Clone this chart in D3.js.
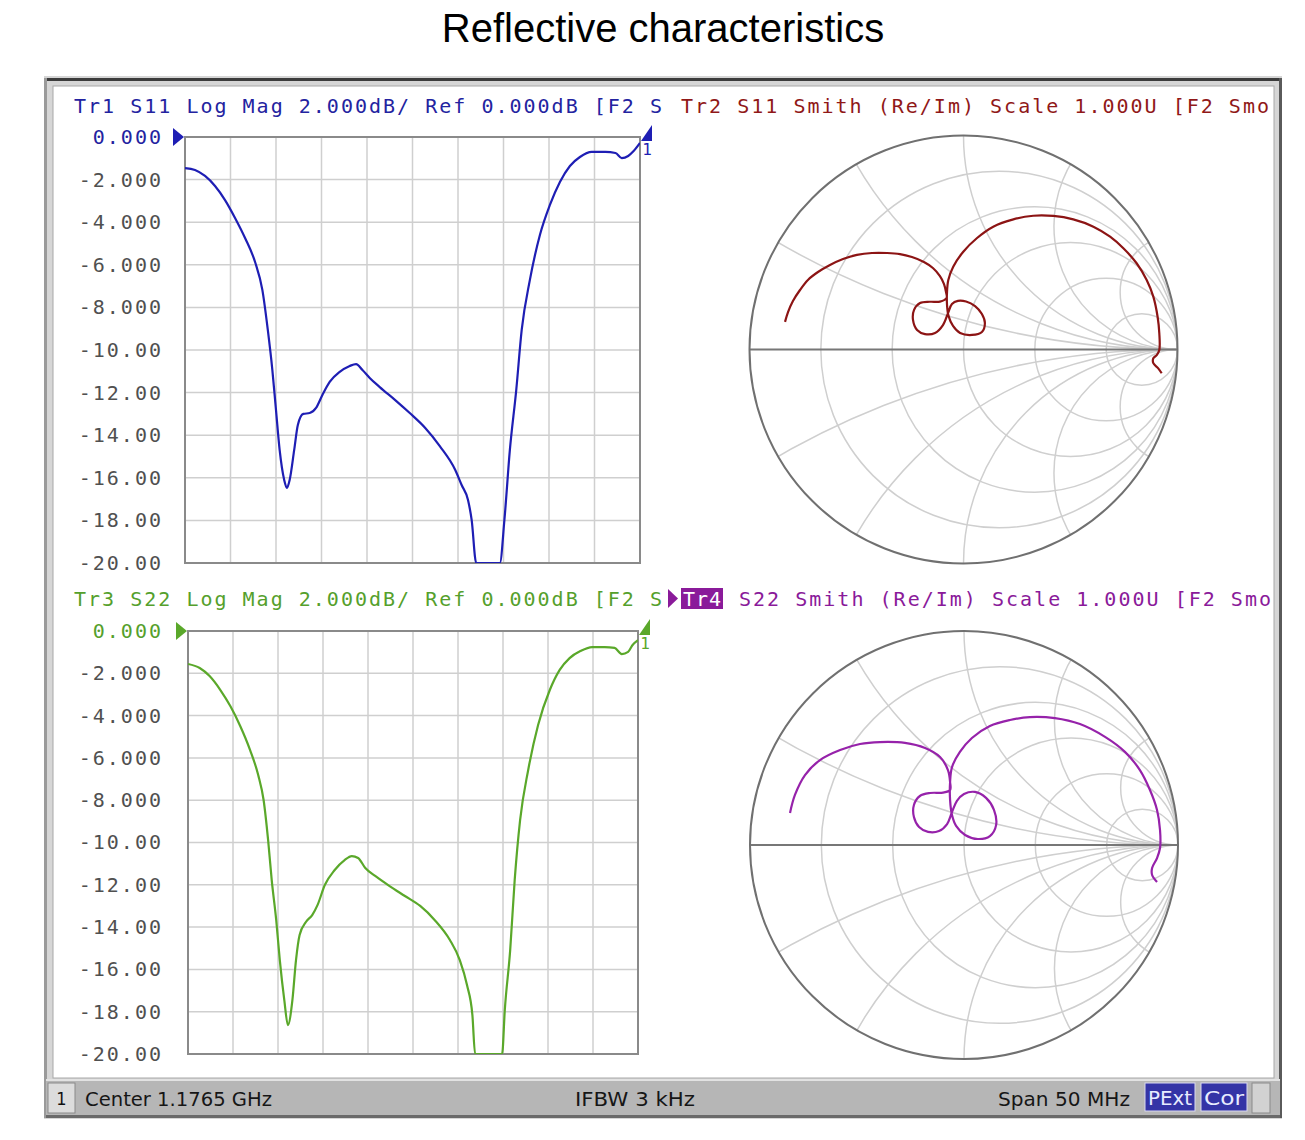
<!DOCTYPE html>
<html><head><meta charset="utf-8">
<script src="https://cdn.jsdelivr.net/npm/d3@7"></script>
<style>
body{margin:0;background:#fff;}
svg{display:block;}
</style></head><body>
<svg id="c" width="1305" height="1140"></svg>
<script>
// ---------------- DATA ----------------
const chartTitle = "Reflective characteristics";
const freqStartMHz = 1151.5, freqStopMHz = 1201.5;   // center 1.1765 GHz, span 50 MHz
const yTickValues = [0,-2,-4,-6,-8,-10,-12,-14,-16,-18,-20];
const yTickLabels = ["0.000","-2.000","-4.000","-6.000","-8.000","-10.00","-12.00","-14.00","-16.00","-18.00","-20.00"];

// Tr1 S11 log mag (dB); values below -20 dB are clipped at the grid bottom
const s11Freq = [1151.5,1152.6,1153.7,1154.8,1155.9,1157.0,1158.1,1159.2,1160.0,1160.6,1161.1,1161.5,1161.9,1162.4,1162.7,1163.0,1163.5,1163.9,1164.5,1165.2,1165.9,1166.6,1167.4,1168.5,1169.6,1170.3,1171.0,1171.8,1172.9,1174.6,1176.2,1177.9,1179.5,1181.2,1181.9,1182.6,1183.0,1183.5,1184.8,1186.1,1186.6,1187.2,1187.9,1188.5,1189.4,1190.5,1191.6,1192.7,1193.8,1194.9,1196.2,1197.7,1198.8,1199.5,1200.2,1200.8,1201.5];
const s11dB = [-1.46,-1.55,-1.83,-2.30,-2.96,-3.80,-4.74,-5.87,-7.18,-9.06,-10.94,-12.82,-14.69,-16.10,-16.48,-16.10,-14.69,-13.52,-13.00,-12.96,-12.72,-12.11,-11.50,-11.03,-10.75,-10.66,-10.94,-11.31,-11.74,-12.35,-12.96,-13.66,-14.51,-15.63,-16.34,-17.04,-17.98,-21.0,-23.0,-21.5,-17.98,-14.69,-11.88,-9.06,-6.71,-4.60,-3.19,-2.11,-1.36,-0.94,-0.70,-0.70,-0.75,-0.99,-0.89,-0.66,-0.28];

// Tr3 S22 log mag (dB)
const s22Freq = [1151.5,1152.8,1153.9,1155.1,1156.2,1157.3,1158.4,1159.3,1159.9,1160.4,1160.8,1161.3,1161.7,1162.2,1162.6,1163.1,1163.5,1163.9,1164.6,1165.3,1165.9,1166.7,1167.8,1168.9,1169.7,1170.4,1171.2,1172.3,1173.9,1175.6,1177.3,1178.9,1180.6,1181.7,1182.5,1183.1,1183.4,1185.1,1186.4,1186.7,1187.3,1187.8,1188.4,1189.3,1190.4,1191.7,1192.8,1193.9,1195.1,1196.4,1197.8,1198.9,1199.7,1200.4,1200.9,1201.5];
const s22dB = [-1.56,-1.75,-2.13,-2.79,-3.55,-4.49,-5.63,-6.81,-7.99,-9.88,-11.77,-13.66,-15.56,-17.45,-18.63,-17.45,-15.56,-14.37,-13.76,-13.43,-12.95,-12.01,-11.30,-10.83,-10.64,-10.73,-11.21,-11.58,-12.06,-12.53,-13.00,-13.66,-14.61,-15.56,-16.74,-18.16,-20.8,-22.0,-20.5,-17.92,-15.08,-11.77,-8.94,-6.57,-4.44,-2.79,-1.84,-1.28,-0.95,-0.76,-0.76,-0.80,-1.09,-0.99,-0.66,-0.43];

// Tr2 S11 Smith (reflection coefficient, Re / Im)
const s11Re = [-0.834,-0.820,-0.797,-0.764,-0.727,-0.680,-0.624,-0.563,-0.498,-0.428,-0.357,-0.297,-0.241,-0.185,-0.143,-0.110,-0.091,-0.082,-0.079,
 -0.110,-0.157,-0.203,-0.231,-0.236,-0.217,-0.180,-0.133,-0.096,-0.072,
 -0.054,-0.026,0.012,0.054,0.086,0.100,0.086,0.040,-0.016,-0.049,-0.070,
 -0.077,-0.077,-0.071,-0.048,-0.001,0.062,0.139,0.233,0.326,0.420,0.513,0.607,0.685,0.747,0.809,0.856,0.887,0.907,0.915,0.915,0.903,0.887,0.887,0.910,0.926];
const s11Im = [0.129,0.175,0.227,0.278,0.325,0.362,0.395,0.423,0.442,0.451,0.451,0.446,0.432,0.409,0.381,0.343,0.306,0.269,0.241,
 0.224,0.223,0.217,0.185,0.138,0.091,0.072,0.077,0.114,0.171,
 0.213,0.227,0.224,0.203,0.166,0.124,0.082,0.068,0.077,0.110,0.157,
 0.208,0.269,0.325,0.387,0.457,0.520,0.574,0.608,0.625,0.624,0.608,0.574,0.527,0.473,0.403,0.325,0.247,0.153,0.076,-0.002,-0.026,-0.041,-0.064,-0.088,-0.111];

// Tr4 S22 Smith
const s22Re = [-0.813,-0.790,-0.743,-0.673,-0.579,-0.486,-0.393,-0.276,-0.182,-0.112,-0.075,-0.065,-0.065,
 -0.098,-0.159,-0.206,-0.234,-0.234,-0.210,-0.168,-0.117,-0.079,-0.056,
 -0.033,0.000,0.051,0.103,0.140,0.150,0.121,0.065,0.005,-0.037,-0.056,
 -0.065,-0.065,-0.056,-0.019,0.037,0.121,0.215,0.308,0.425,0.542,0.659,0.752,0.822,0.869,0.902,0.916,0.916,0.902,0.879,0.879,0.902];
const s22Im = [0.150,0.234,0.327,0.397,0.444,0.472,0.481,0.477,0.453,0.411,0.350,0.294,0.257,
 0.245,0.243,0.229,0.187,0.131,0.084,0.061,0.065,0.098,0.154,
 0.206,0.238,0.248,0.220,0.164,0.093,0.042,0.028,0.047,0.089,0.140,
 0.210,0.294,0.364,0.435,0.500,0.556,0.584,0.598,0.593,0.565,0.505,0.435,0.350,0.257,0.164,0.070,-0.014,-0.061,-0.107,-0.140,-0.173];

// Smith grid: constant-resistance circles and constant-reactance arcs
const smithR = [0.2, 0.5, 1, 2, 5];
const smithX = [0.268, 0.577, 1, 1.732, 3.732];

const headerTr1 = "Tr1 S11 Log Mag 2.000dB/ Ref 0.000dB [F2 S";
const headerTr2 = "Tr2 S11 Smith (Re/Im) Scale 1.000U [F2 Smo";
const headerTr3 = "Tr3 S22 Log Mag 2.000dB/ Ref 0.000dB [F2 S";
const headerTr4Tag = "Tr4";
const headerTr4 = "S22 Smith (Re/Im) Scale 1.000U [F2 Smo";
const statusItems = ["Center 1.1765 GHz", "IFBW 3 kHz", "Span 50 MHz"];
const statusFlags = ["PExt", "Cor"];
const channelLabel = "1";
const markerLabel = "1";

// ---------------- DRAWING ----------------
const svg = d3.select("#c");
const MONO = "'DejaVu Sans Mono', monospace";
const COND = "'DejaVu Sans Condensed','DejaVu Sans',sans-serif";
const C = {
  tr1: "#1e1eb4", tr1t: "#2323a0",
  tr2: "#8c1414", tr2t: "#901818",
  tr3: "#5aa82a", tr3t: "#55a02c",
  tr4: "#9622aa", tr4t: "#8a1a9a",
  grid: "#cfcfcf", frame: "#8a8a8a", lab: "#505050"
};

// title
svg.append("text").attr("x", 663).attr("y", 42).attr("text-anchor", "middle")
  .attr("font-family", "'Liberation Sans', Arial, sans-serif").attr("font-size", 40)
  .attr("fill", "#000").text(chartTitle);

// instrument window frame
svg.append("rect").attr("x", 44).attr("y", 76).attr("width", 1238).attr("height", 1043).attr("fill", "#d6d6d6");
svg.append("rect").attr("x", 44).attr("y", 78).attr("width", 1238).attr("height", 3).attr("fill", "#3c3c3c");
svg.append("rect").attr("x", 44).attr("y", 78).attr("width", 3).attr("height", 1040).attr("fill", "#9a9a9a");
svg.append("rect").attr("x", 1279).attr("y", 78).attr("width", 3).attr("height", 1040).attr("fill", "#5a5a5a");
svg.append("rect").attr("x", 53).attr("y", 86).attr("width", 1221).attr("height", 992)
  .attr("fill", "#fff").attr("stroke", "#a8a8a8").attr("stroke-width", 1);

// ---- log-mag panels ----
function logPanel(o) {
  const x = d3.scaleLinear().domain([freqStartMHz, freqStopMHz]).range([o.x0, o.x1]);
  const y = d3.scaleLinear().domain([0, -20]).range([o.y0, o.y1]).clamp(true);
  const g = svg.append("g");
  const vt = d3.range(1, 10).map(i => freqStartMHz + i * (freqStopMHz - freqStartMHz) / 10);
  g.selectAll("line.v").data(vt).join("line")
    .attr("x1", d => x(d)).attr("x2", d => x(d)).attr("y1", o.y0).attr("y2", o.y1)
    .attr("stroke", C.grid).attr("stroke-width", 1.5);
  g.selectAll("line.h").data(yTickValues.slice(1, -1)).join("line")
    .attr("x1", o.x0).attr("x2", o.x1).attr("y1", d => y(d)).attr("y2", d => y(d))
    .attr("stroke", C.grid).attr("stroke-width", 1.5);
  const ax = d3.axisLeft(y).tickValues(yTickValues).tickSize(0).tickPadding(o.x0 - 163)
    .tickFormat((d, i) => yTickLabels[i]);
  const ag = svg.append("g").attr("transform", `translate(${o.x0},0)`).call(ax);
  ag.select(".domain").remove();
  ag.selectAll("text").attr("font-family", MONO).attr("font-size", 20)
    .attr("letter-spacing", 2).attr("fill", (d, i) => i === 0 ? o.tcol : C.lab);
  g.append("rect").attr("x", o.x0).attr("y", o.y0).attr("width", o.x1 - o.x0).attr("height", o.y1 - o.y0)
    .attr("fill", "none").attr("stroke", C.frame).attr("stroke-width", 2);
  const cid = "clip" + o.id;
  svg.append("clipPath").attr("id", cid).append("rect")
    .attr("x", o.x0).attr("y", o.y0 - 2).attr("width", o.x1 - o.x0).attr("height", o.y1 - o.y0 + 2);
  const pts = o.f.map((f, i) => [f, o.v[i]]);
  svg.append("path").datum(pts).attr("clip-path", `url(#${cid})`)
    .attr("d", d3.line().x(d => x(d[0])).y(d => y(d[1])).curve(d3.curveMonotoneX))
    .attr("fill", "none").attr("stroke", o.col).attr("stroke-width", 2.2).attr("stroke-linejoin", "round");
  // reference level marker (left) and marker (right)
  const ry = y(0);
  svg.append("path").attr("d", `M${o.x0 - 12},${ry - 9}L${o.x0 - 1},${ry}L${o.x0 - 12},${ry + 9}Z`).attr("fill", o.col);
  const mx = x(freqStopMHz);
  svg.append("path").attr("d", `M${mx + 1},${ry + 4}L${mx + 12},${ry - 12}L${mx + 12},${ry + 4}Z`).attr("fill", o.col);
  svg.append("text").attr("x", mx + 7).attr("y", ry + 18).attr("text-anchor", "middle")
    .attr("font-family", MONO).attr("font-size", 16).attr("fill", o.col).text(markerLabel);
}
logPanel({id: 1, x0: 185, x1: 640, y0: 137, y1: 563, f: s11Freq, v: s11dB, col: C.tr1, tcol: C.tr1t});
logPanel({id: 3, x0: 188, x1: 638, y0: 631, y1: 1054, f: s22Freq, v: s22dB, col: C.tr3, tcol: C.tr3t});

// ---- Smith panels ----
function smithPanel(o) {
  const R = 214;
  const sx = d3.scaleLinear().domain([-1, 1]).range([o.cx - R, o.cx + R]);
  const sy = d3.scaleLinear().domain([-1, 1]).range([o.cy + R, o.cy - R]);
  const k = sx(1) - sx(0);
  const cid = "sclip" + o.id;
  svg.append("clipPath").attr("id", cid).append("circle").attr("cx", sx(0)).attr("cy", sy(0)).attr("r", k);
  const g = svg.append("g").attr("clip-path", `url(#${cid})`);
  g.selectAll("circle.r").data(smithR).join("circle")
    .attr("cx", r => sx(r / (1 + r))).attr("cy", sy(0)).attr("r", r => sx(1 / (1 + r)) - sx(0))
    .attr("fill", "none").attr("stroke", C.grid).attr("stroke-width", 1.5);
  const xs = smithX.flatMap(v => [v, -v]);
  g.selectAll("circle.x").data(xs).join("circle")
    .attr("cx", sx(1)).attr("cy", v => sy(1 / v)).attr("r", v => Math.abs(sx(1 / v) - sx(0)))
    .attr("fill", "none").attr("stroke", C.grid).attr("stroke-width", 1.5);
  svg.append("line").attr("x1", sx(-1)).attr("x2", sx(1)).attr("y1", sy(0)).attr("y2", sy(0))
    .attr("stroke", "#777").attr("stroke-width", 2);
  svg.append("circle").attr("cx", sx(0)).attr("cy", sy(0)).attr("r", k)
    .attr("fill", "none").attr("stroke", "#707070").attr("stroke-width", 2);
  const pts = o.re.map((r, i) => [r, o.im[i]]);
  svg.append("path").datum(pts)
    .attr("d", d3.line().x(d => sx(d[0])).y(d => sy(d[1])).curve(d3.curveCatmullRom.alpha(0.5)))
    .attr("fill", "none").attr("stroke", o.col).attr("stroke-width", 2.2).attr("stroke-linejoin", "round");
}
smithPanel({id: 2, cx: 963.5, cy: 349.5, re: s11Re, im: s11Im, col: C.tr2});
smithPanel({id: 4, cx: 964, cy: 845, re: s22Re, im: s22Im, col: C.tr4});

// ---- trace headers ----
function header(x, y, txt, col) {
  svg.append("text").attr("x", x).attr("y", y).attr("font-family", MONO).attr("font-size", 20)
    .attr("textLength", txt.length * 14).attr("lengthAdjust", "spacing")
    .attr("fill", col).text(txt);
}
header(74, 113, headerTr1, C.tr1t);
header(681, 113, headerTr2, C.tr2t);
header(74, 606, headerTr3, C.tr3t);
svg.append("path").attr("d", "M668,589L678,598.5L668,608Z").attr("fill", C.tr4t);
svg.append("rect").attr("x", 681).attr("y", 588).attr("width", 42).attr("height", 21).attr("fill", C.tr4t);
svg.append("text").attr("x", 683).attr("y", 606).attr("font-family", MONO).attr("font-size", 20)
  .attr("textLength", 38).attr("lengthAdjust", "spacing").attr("fill", "#fff").text(headerTr4Tag);
header(739, 606, headerTr4, C.tr4t);

// ---- status bar ----
svg.append("rect").attr("x", 46).attr("y", 1079).attr("width", 1234).attr("height", 38).attr("fill", "#b6b6b6");
svg.append("rect").attr("x", 46).attr("y", 1079).attr("width", 1234).attr("height", 2).attr("fill", "#e2e2e2");
svg.append("rect").attr("x", 46).attr("y", 1115).attr("width", 1234).attr("height", 3).attr("fill", "#6a6a6a");
svg.append("rect").attr("x", 48).attr("y", 1083).attr("width", 27).attr("height", 30)
  .attr("fill", "#dcdcdc").attr("stroke", "#8a8a8a");
svg.append("text").attr("x", 61.5).attr("y", 1105).attr("text-anchor", "middle")
  .attr("font-family", COND).attr("font-size", 18).attr("fill", "#111").text(channelLabel);
const statusX = [85, 575, 998], statusW = [187, 120, 132];
statusItems.forEach((t, i) => {
  svg.append("text").attr("x", statusX[i]).attr("y", 1106).attr("font-family", COND).attr("font-size", 20)
    .attr("textLength", statusW[i]).attr("lengthAdjust", "spacingAndGlyphs").attr("fill", "#161616").text(t);
});
const flagX = [1145, 1201], flagW = [50, 46];
statusFlags.forEach((t, i) => {
  svg.append("rect").attr("x", flagX[i]).attr("y", 1083).attr("width", flagW[i]).attr("height", 28)
    .attr("fill", "#3434a6").attr("stroke", "#d8d8f0").attr("stroke-width", 1);
  svg.append("text").attr("x", flagX[i] + flagW[i] / 2).attr("y", 1105).attr("text-anchor", "middle")
    .attr("font-family", COND).attr("font-size", 20).attr("textLength", flagW[i] - 6)
    .attr("lengthAdjust", "spacingAndGlyphs").attr("fill", "#e8ecff").text(t);
});
svg.append("rect").attr("x", 1252).attr("y", 1083).attr("width", 18).attr("height", 30)
  .attr("fill", "#d2d2d2").attr("stroke", "#8a8a8a");
</script>
</body></html>
